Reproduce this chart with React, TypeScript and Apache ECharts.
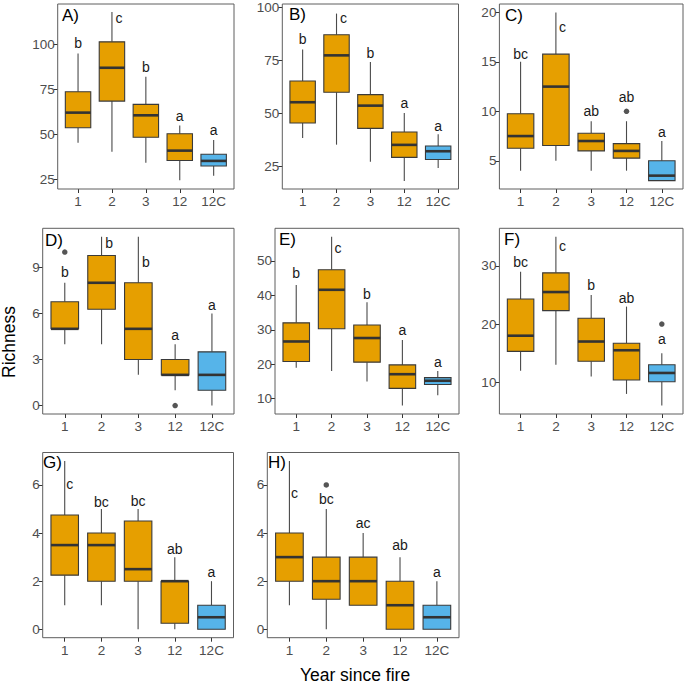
import React, { useEffect, useRef } from 'react';
import * as echarts from 'echarts';

const categories = ['1', '2', '3', '12', '12C'];

// Boxes: [min, Q1, median, Q3, max] per category
const boxesA = [[45.3, 53.6, 62.0, 73.6, 94.8], [40.3, 68.4, 86.9, 101.3, 117.9], [34.2, 48.3, 60.5, 66.6, 81.9], [24.5, 35.4, 40.9, 50.3, 54.9], [27.0, 32.4, 35.2, 38.9, 46.8]];
const lettersA = ['b', 'c', 'b', 'a', 'a'];
const letterYA = [100.4, 114.8, 87.4, 60.3, 52.3];
const outliersA: [number, number][] = [];
const ticksA = [25, 50, 75, 100];

const boxesB = [[38.3, 45.3, 55.1, 65.1, 80.0], [35.1, 59.8, 77.2, 86.9, 96.9], [27.0, 42.8, 53.5, 58.7, 74.1], [18.0, 29.1, 35.0, 41.1, 50.0], [24.1, 28.1, 32.0, 34.5, 40.0]];
const lettersB = ['b', 'c', 'b', 'a', 'a'];
const letterYB = [84.7, 94.9, 78.2, 54.9, 43.7];
const outliersB: [number, number][] = [];
const ticksB = [25, 50, 75, 100];

const boxesC = [[4, 6.27, 7.5, 9.76, 15], [5, 6.54, 12.5, 15.78, 20], [4, 6, 7, 7.78, 9], [4, 5.27, 6, 6.74, 9], [3, 3, 3.5, 5, 7]];
const lettersC = ['bc', 'c', 'ab', 'ab', 'a'];
const letterYC = [15.8, 18.5, 10.0, 11.5, 7.9];
const outliersC: [number, number][] = [[3, 10]];
const ticksC = [5, 10, 15, 20];

const boxesD = [[4, 5, 5, 6.76, 8], [4, 6.28, 8, 9.78, 11], [2, 3, 5, 8, 11], [1, 2, 2, 3, 4], [0, 1, 2, 3.5, 6]];
const lettersD = ['b', 'b', 'b', 'a', 'a'];
const letterYD = [8.72, 10.57, 9.33, 4.6, 6.54];
const outliersD: [number, number][] = [[0, 10], [3, 0]];
const ticksD = [0, 3, 6, 9];

const boxesE = [[19, 20.8, 26.6, 32.0, 43], [18, 30.3, 41.6, 47.4, 57], [15, 20.6, 27.6, 31.4, 38], [8, 13, 17.1, 19.8, 27], [11, 14.1, 15.2, 16.1, 18]];
const lettersE = ['b', 'c', 'b', 'a', 'a'];
const letterYE = [46.5, 53.8, 40.5, 29.8, 20.7];
const outliersE: [number, number][] = [];
const ticksE = [10, 20, 30, 40, 50];

const boxesF = [[12, 15.3, 18, 24.3, 29], [13, 22.3, 25.5, 28.8, 35], [11, 13.6, 17, 21, 25], [8, 10.4, 15.5, 16.7, 23], [6, 10.1, 11.6, 13, 15]];
const lettersF = ['bc', 'c', 'b', 'ab', 'a'];
const letterYF = [30.7, 33.4, 26.7, 24.5, 17.4];
const outliersF: [number, number][] = [[4, 20]];
const ticksF = [10, 20, 30];

const boxesG = [[1, 2.25, 3.5, 4.75, 7], [1, 2, 3.5, 4, 5], [0, 2, 2.5, 4.5, 5], [0, 0.25, 2, 2, 3], [0, 0, 0.5, 1, 2]];
const lettersG = ['c', 'bc', 'bc', 'ab', 'a'];
const letterYG = [6.03, 5.31, 5.35, 3.34, 2.37];
const outliersG: [number, number][] = [];
const ticksG = [0, 2, 4, 6];

const boxesH = [[1, 2, 3, 4, 7], [0, 1.25, 2, 3, 5], [1, 1, 2, 3, 4], [0, 0, 1, 2, 3], [0, 0, 0.5, 1, 2]];
const lettersH = ['c', 'bc', 'ac', 'ab', 'a'];
const letterYH = [5.68, 5.43, 4.4, 3.5, 2.37];
const outliersH: [number, number][] = [[1, 6]];
const ticksH = [0, 2, 4, 6];

const FONT = '"Liberation Sans", Arial, Helvetica, sans-serif';
const ORANGE = '#E69F00';
const BLUE = '#56B4E9';

type Panel = {
  tag: string;
  boxes: number[][];
  letters: string[];
  letterY: number[];
  letterDx: number[];
  outliers: [number, number][];
  ticks: number[];
  range: [number, number];
  frame: [number, number, number, number];
  tagPos: [number, number];
};

const panels: Panel[] = [
  { tag: 'A)', boxes: boxesA, letters: lettersA, letterY: letterYA, letterDx: [0, 7, 0, 0, 0], outliers: outliersA, ticks: ticksA, range: [19.6, 122.3], frame: [57.7, 4, 234, 189], tagPos: [62, 7] },
  { tag: 'B)', boxes: boxesB, letters: lettersB, letterY: letterYB, letterDx: [0, 7, 0, 0, 0], outliers: outliersB, ticks: ticksB, range: [14.2, 100.9], frame: [282.3, 4, 458.5, 189], tagPos: [289, 5.5] },
  { tag: 'C)', boxes: boxesC, letters: lettersC, letterY: letterYC, letterDx: [0, 6.5, 0, 0, 0], outliers: outliersC, ticks: ticksC, range: [2.15, 20.85], frame: [499.4, 4, 683, 189], tagPos: [505, 6.5] },
  { tag: 'D)', boxes: boxesD, letters: lettersD, letterY: letterYD, letterDx: [0, 7.5, 7.5, 0, 0], outliers: outliersD, ticks: ticksD, range: [-0.55, 11.55], frame: [42.7, 228.3, 234, 414], tagPos: [45, 231.5] },
  { tag: 'E)', boxes: boxesE, letters: lettersE, letterY: letterYE, letterDx: [0, 6.5, 0, 0, 0], outliers: outliersE, ticks: ticksE, range: [5.55, 59.45], frame: [275, 228.3, 459, 414], tagPos: [279, 230.5] },
  { tag: 'F)', boxes: boxesF, letters: lettersF, letterY: letterYF, letterDx: [0, 6.5, 0, 0, 0], outliers: outliersF, ticks: ticksF, range: [4.55, 36.45], frame: [499.4, 228.3, 683, 414], tagPos: [504, 230.5] },
  { tag: 'G)', boxes: boxesG, letters: lettersG, letterY: letterYG, letterDx: [5, 0, 0, 0, 0], outliers: outliersG, ticks: ticksG, range: [-0.35, 7.35], frame: [42.7, 452.5, 233.5, 637.7], tagPos: [43, 454] },
  { tag: 'H)', boxes: boxesH, letters: lettersH, letterY: letterYH, letterDx: [5, 0, 0, 0, 0], outliers: outliersH, ticks: ticksH, range: [-0.35, 7.35], frame: [267.3, 452.5, 459, 637.7], tagPos: [268, 453.5] },
];

export default function App() {
  const ref = useRef<HTMLDivElement>(null);
  useEffect(() => {
    const chart = echarts.init(ref.current as HTMLDivElement, null, { renderer: 'svg' });
    const grid: any[] = [];
    const xAxis: any[] = [];
    const yAxis: any[] = [];
    const series: any[] = [];
    const graphic: any[] = [];

    panels.forEach((p, i) => {
      const [L, T, R, B] = p.frame;
      const band = (R - L) / 5.2;
      grid.push({ left: L + 0.1 * band, top: T, width: 5 * band, height: B - T });
      xAxis.push({
        type: 'category', gridIndex: i, data: categories, boundaryGap: true,
        axisLine: { show: false, onZero: false },
        axisTick: { show: true, alignWithLabel: true, length: 4, lineStyle: { color: '#333', width: 1 } },
        axisLabel: { show: true, interval: 0, margin: 5.5, fontSize: 13.5, color: '#4d4d4d', fontFamily: FONT },
        splitLine: { show: false },
      });
      yAxis.push({
        type: 'value', gridIndex: i, min: p.range[0], max: p.range[1], offset: 0.1 * band,
        axisLine: { show: false, onZero: false },
        axisTick: { show: true, length: 4, customValues: p.ticks, lineStyle: { color: '#333', width: 1 } },
        axisLabel: { show: true, customValues: p.ticks, margin: 3, fontSize: 13.5, color: '#4d4d4d', fontFamily: FONT },
        splitLine: { show: false },
      });
      series.push({
        type: 'custom', xAxisIndex: i, yAxisIndex: i, silent: true,
        data: p.boxes.map((b, j) => [j, b[0], b[1], b[2], b[3], b[4]]),
        encode: { x: 0, y: [1, 2, 3, 4, 5] },
        renderItem: (_params: any, api: any) => {
          const idx = api.value(0);
          const mn = api.value(1), q1 = api.value(2), md = api.value(3), q3 = api.value(4), mx = api.value(5);
          const bw = api.size([1, 0])[0];
          const hw = bw * 0.375;
          const pMin = api.coord([idx, mn]);
          const pQ1 = api.coord([idx, q1]);
          const pMd = api.coord([idx, md]);
          const pQ3 = api.coord([idx, q3]);
          const pMax = api.coord([idx, mx]);
          const cx = pMd[0];
          const fill = idx === 4 ? BLUE : ORANGE;
          return {
            type: 'group',
            children: [
              { type: 'line', shape: { x1: cx, y1: pMax[1], x2: cx, y2: pQ3[1] }, style: { stroke: '#4a4a4a', lineWidth: 1.1 } },
              { type: 'line', shape: { x1: cx, y1: pQ1[1], x2: cx, y2: pMin[1] }, style: { stroke: '#4a4a4a', lineWidth: 1.1 } },
              { type: 'rect', shape: { x: cx - hw, y: pQ3[1], width: 2 * hw, height: pQ1[1] - pQ3[1] }, style: { fill, stroke: '#3a3a3a', lineWidth: 1.1 } },
              { type: 'line', shape: { x1: cx - hw, y1: pMd[1], x2: cx + hw, y2: pMd[1] }, style: { stroke: '#333', lineWidth: 2.6 } },
            ],
          };
        },
        z: 2,
      });
      if (p.outliers.length) {
        series.push({
          type: 'scatter', xAxisIndex: i, yAxisIndex: i, silent: true,
          data: p.outliers.map((o) => [o[0], o[1]]),
          symbolSize: 5.5, itemStyle: { color: '#2b2b2b' }, z: 3,
        });
      }
      const letters = p.letters;
      const dxs = p.letterDx;
      series.push({
        type: 'custom', xAxisIndex: i, yAxisIndex: i, silent: true,
        data: letters.map((_l, j) => [j, p.letterY[j]]),
        encode: { x: 0, y: 1 },
        renderItem: (_params: any, api: any) => {
          const idx = api.value(0);
          const pt = api.coord([idx, api.value(1)]);
          return {
            type: 'text',
            x: pt[0] + dxs[idx], y: pt[1],
            style: { text: letters[idx], fontSize: 14, fontFamily: FONT, fill: '#1a1a1a', textAlign: 'center', textVerticalAlign: 'middle' },
          };
        },
        z: 4,
      });
      graphic.push({
        type: 'rect', silent: true, z: 10,
        shape: { x: L, y: T, width: R - L, height: B - T },
        style: { fill: 'none', stroke: '#5e5e5e', lineWidth: 1 },
      });
      graphic.push({
        type: 'text', silent: true, z: 11, x: p.tagPos[0], y: p.tagPos[1],
        style: { text: p.tag, fontSize: 17, fontFamily: FONT, fill: '#000', textAlign: 'left', textVerticalAlign: 'top' },
      });
    });

    graphic.push({
      type: 'text', silent: true, x: 9, y: 342, rotation: Math.PI / 2,
      style: { text: 'Richness', fontSize: 17.5, fontFamily: FONT, fill: '#000', textAlign: 'center', textVerticalAlign: 'middle' },
    });
    graphic.push({
      type: 'text', silent: true, x: 355, y: 675,
      style: { text: 'Year since fire', fontSize: 17.5, fontFamily: FONT, fill: '#000', textAlign: 'center', textVerticalAlign: 'middle' },
    });

    chart.setOption({
      animation: false,
      backgroundColor: '#ffffff',
      grid, xAxis, yAxis, series, graphic,
    });
    return () => chart.dispose();
  }, []);
  return <div ref={ref} style={{ position: 'fixed', left: 0, top: 0, width: 685, height: 687 }} />;
}
